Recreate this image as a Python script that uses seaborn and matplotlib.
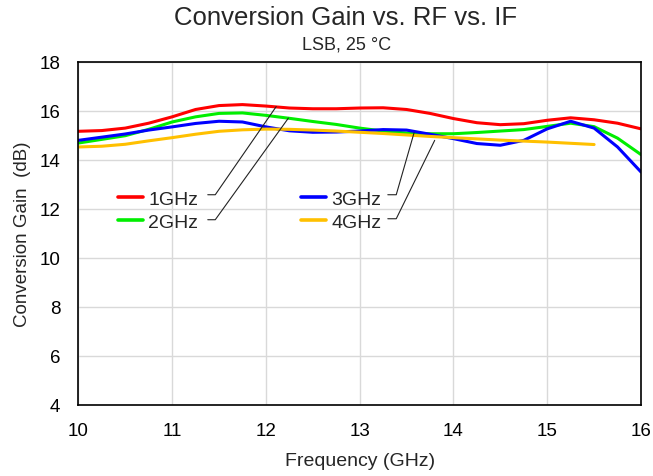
import numpy as np
import pandas as pd
import matplotlib
matplotlib.use("Agg")
import matplotlib.pyplot as plt
import seaborn as sns

# 値は図から読み取り (0.25 GHz 刻み)
freq = [10.0, 10.25, 10.5, 10.75, 11.0, 11.25, 11.5, 11.75, 12.0, 12.25, 12.5, 12.75,
        13.0, 13.25, 13.5, 13.75, 14.0, 14.25, 14.5, 14.75, 15.0, 15.25, 15.5, 15.75, 16.0]

gain_1ghz = [15.17, 15.20, 15.30, 15.50, 15.76, 16.06, 16.22, 16.26, 16.20, 16.12, 16.09, 16.09,
             16.12, 16.13, 16.06, 15.90, 15.69, 15.52, 15.44, 15.48, 15.62, 15.72, 15.64, 15.50, 15.27]
gain_2ghz = [14.69, 14.84, 14.99, 15.25, 15.55, 15.76, 15.90, 15.92, 15.82, 15.70, 15.57, 15.45,
             15.30, 15.18, 15.10, 15.07, 15.07, 15.12, 15.18, 15.24, 15.37, 15.50, 15.36, 14.89, 14.22]
gain_3ghz = [14.80, 14.93, 15.06, 15.22, 15.35, 15.49, 15.58, 15.55, 15.35, 15.19, 15.13, 15.14,
             15.18, 15.24, 15.22, 15.05, 14.87, 14.67, 14.60, 14.80, 15.27, 15.58, 15.30, 14.53, 13.51]
gain_4ghz = [14.53, 14.56, 14.64, 14.78, 14.91, 15.05, 15.17, 15.23, 15.26, 15.25, 15.22, 15.18,
             15.13, 15.08, 15.02, 14.96, 14.91, 14.86, 14.81, 14.77, 14.73, 14.68, 14.63, np.nan, np.nan]

series_labels = ["1GHz", "2GHz", "3GHz", "4GHz"]
series_colors = ["#ff0000", "#00ee00", "#0000ff", "#ffc000"]
x_ticks = [10, 11, 12, 13, 14, 15, 16]
y_ticks = [4, 6, 8, 10, 12, 14, 16, 18]

df = pd.DataFrame({
    "freq": freq * 4,
    "gain": gain_1ghz + gain_2ghz + gain_3ghz + gain_4ghz,
    "IF": sum([[lab] * len(freq) for lab in series_labels], []),
})

sns.set_theme(style="white")
plt.rcParams["font.family"] = ["Liberation Sans", "DejaVu Sans"]

fig = plt.figure(figsize=(6.53, 4.77), dpi=100)
ax = fig.add_axes([0.12, 0.149, 0.8616, 0.719])

sns.lineplot(data=df, x="freq", y="gain", hue="IF", palette=series_colors,
             hue_order=series_labels, linewidth=2.2, ax=ax, legend=False)

ax.set_xlim(10, 16)
ax.set_ylim(4, 18)
ax.set_xticks(x_ticks)
ax.set_yticks(y_ticks)
ax.grid(True, color="#d9d9d9", linewidth=1.0)
ax.tick_params(axis="x", length=0, labelsize=13.5, colors="black", pad=12)
ax.tick_params(axis="y", length=0, labelsize=13.5, colors="black", pad=13)
for sp in ax.spines.values():
    sp.set_color("black")
    sp.set_linewidth(1.2)

ax.set_xlabel("Frequency (GHz)", fontsize=14, labelpad=10)
ax.set_ylabel("Conversion Gain  (dB)", fontsize=13.5, labelpad=6)

fig.text(0.529, 0.962, "Conversion Gain vs. RF vs. IF", ha="center", va="center", fontsize=18.5)
fig.text(0.53, 0.905, "LSB, 25 °C", ha="center", va="center", fontsize=13)

# 凡例 (2列)
handles = [plt.Line2D([], [], color=c, linewidth=2.6) for c in series_colors]
ax.legend(handles, series_labels, ncol=2, loc="upper left", bbox_to_anchor=(0.053, 0.655),
          frameon=False, fontsize=14, borderpad=0, handlelength=1.3, handletextpad=0.25,
          columnspacing=5.3, labelspacing=0.3)

# 引き出し線
leaders = [
    ([11.38, 11.46, 12.11], [12.58, 12.58, 16.18]),
    ([11.38, 11.46, 12.24], [11.56, 11.56, 15.71]),
    ([13.30, 13.39, 13.58], [12.58, 12.58, 15.11]),
    ([13.30, 13.39, 13.80], [11.60, 11.60, 14.80]),
]
for lx, ly in leaders:
    ax.plot(lx, ly, color="#222222", linewidth=0.8, zorder=5)

fig.savefig("out.png", dpi=100)
